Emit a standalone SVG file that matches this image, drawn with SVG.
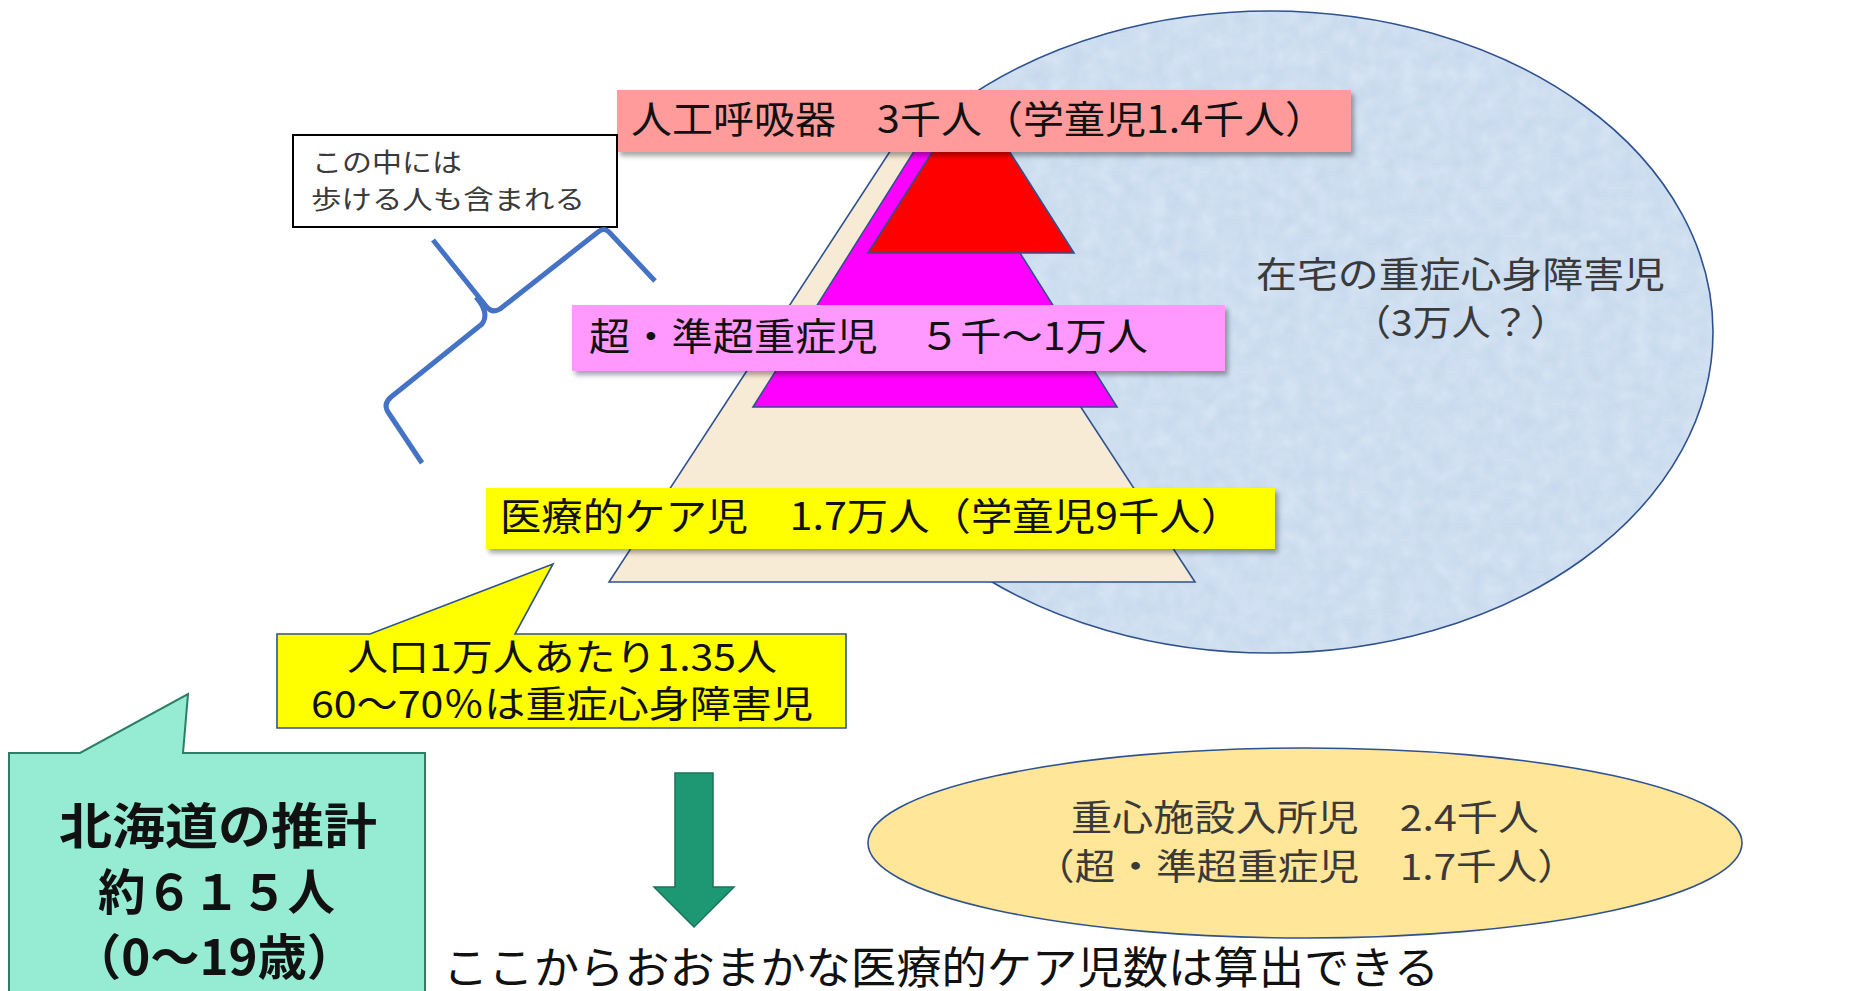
<svg xmlns="http://www.w3.org/2000/svg" width="1861" height="991" viewBox="0 0 1861 991">
<defs>
<style>
.t{font-family:"Noto Sans CJK JP","Noto Sans CJK SC",sans-serif;fill:#111;}
.g{fill:#3a3a3a;}
.edge{stroke:#2F528F;stroke-width:1.6;}
.lbl{filter:url(#sh);}
.br{fill:none;stroke:#4472C4;stroke-width:5;stroke-linecap:butt;stroke-linejoin:round;}
</style>
<filter id="sh" x="-5%" y="-20%" width="112%" height="150%">
<feDropShadow dx="3" dy="4" stdDeviation="2.5" flood-color="#000" flood-opacity="0.35"/>
</filter>
<filter id="tex" x="0" y="0" width="100%" height="100%">
<feTurbulence type="fractalNoise" baseFrequency="0.06" numOctaves="3" seed="4" result="n"/>
<feColorMatrix in="n" type="matrix" values="0 0 0 0 1  0 0 0 0 1  0 0 0 0 1  0 0 0 0.35 -0.05" result="w"/>
<feComposite in="w" in2="SourceGraphic" operator="atop"/>
</filter>
</defs>
<rect width="1861" height="991" fill="#fff"/>

<g id="home-ellipse">
<ellipse cx="1270" cy="332" rx="443" ry="321" fill="#C6D9EE" filter="url(#tex)"/>
<ellipse cx="1270" cy="332" rx="443" ry="321" fill="none" class="edge" stroke-width="2"/>
<text class="t g" x="1256" y="288" font-size="36" textLength="409" lengthAdjust="spacingAndGlyphs">在宅の重症心身障害児</text>
<text class="t g" x="1352" y="336" font-size="36" textLength="217" lengthAdjust="spacingAndGlyphs">（3万人？）</text>
</g>

<g id="pyramid">
<polygon points="902,133 1195,582 609,582" fill="#F8EBD6" class="edge"/>
<polygon points="935,118 1117,407 753,407" fill="#FF00FF" class="edge"/>
<polygon points="971,91 1074,253 868,253" fill="#FF0000" class="edge"/>
</g>

<g id="label-ventilator">
<rect x="617" y="90" width="734" height="62" fill="#FF9B9B" class="lbl"/>
<text class="t" x="631" y="133" font-size="38" textLength="695" lengthAdjust="spacingAndGlyphs">人工呼吸器　3千人（学童児1.4千人）</text>
</g>

<g id="label-severe">
<rect x="572" y="305" width="653" height="66" fill="#FF99FF" class="lbl"/>
<text class="t" x="589" y="350" font-size="38" textLength="559" lengthAdjust="spacingAndGlyphs">超・準超重症児　５千～1万人</text>
</g>

<g id="label-medical">
<rect x="486" y="488" width="789" height="61" fill="#FFFF00" class="lbl"/>
<text class="t" x="500" y="530" font-size="38" textLength="742" lengthAdjust="spacingAndGlyphs">医療的ケア児　1.7万人（学童児9千人）</text>
</g>

<g id="note-walk">
<rect x="293" y="135" width="324" height="92" fill="#fff" stroke="#000" stroke-width="2"/>
<text class="t g" x="312" y="172" font-size="26" textLength="150" lengthAdjust="spacingAndGlyphs">この中には</text>
<text class="t g" x="311" y="209" font-size="26" textLength="274" lengthAdjust="spacingAndGlyphs">歩ける人も含まれる</text>
</g>

<g id="callout-rate">
<path d="M277,634 L370,634 L553,564 L515,634 L846,634 L846,728 L277,728 Z" fill="#FFFF00" class="edge"/>
<text class="t" x="347" y="671" font-size="37" textLength="430" lengthAdjust="spacingAndGlyphs">人口1万人あたり1.35人</text>
<text class="t" x="311" y="718" font-size="37" textLength="502" lengthAdjust="spacingAndGlyphs">60～70％は重症心身障害児</text>
</g>

<g id="callout-hokkaido">
<path d="M9,753 L80,753 L188,694 L183,753 L425,753 L425,1000 L9,1000 Z" fill="#96EBD3" stroke="#2A7F64" stroke-width="2"/>
<text class="t" x="59" y="844" font-size="49" font-weight="bold" textLength="318" lengthAdjust="spacingAndGlyphs">北海道の推計</text>
<text class="t" x="98" y="910" font-size="49" font-weight="bold" textLength="237" lengthAdjust="spacingAndGlyphs">約６１５人</text>
<text class="t" x="72" y="975" font-size="49" font-weight="bold" textLength="284" lengthAdjust="spacingAndGlyphs">（0～19歳）</text>
</g>

<g id="facility-ellipse">
<ellipse cx="1305" cy="843" rx="437" ry="95" fill="#FFE699" class="edge" stroke-width="2"/>
<text class="t g" x="1071" y="831" font-size="36" textLength="468" lengthAdjust="spacingAndGlyphs">重心施設入所児　2.4千人</text>
<text class="t g" x="1034" y="880" font-size="36" textLength="544" lengthAdjust="spacingAndGlyphs">（超・準超重症児　1.7千人）</text>
</g>

<g id="conclusion">
<text class="t" x="443" y="984" font-size="44" textLength="996" lengthAdjust="spacingAndGlyphs">ここからおおまかな医療的ケア児数は算出できる</text>
</g>

<g id="connectors">
<path class="br" d="M655,281 L609,232 Q604,227 598,232 L500,309 Q492,314 486,306 L433,240"/>
<path class="br" d="M476,297 Q490,313 482,324 L391,397 Q383,404 388,412 L422,463"/>
<path d="M675,773 L713,773 L713,887 L734,887 L694,927 L654,887 L675,887 Z" fill="#1E9873" stroke="#17735A" stroke-width="1.5"/>
</g>
</svg>
